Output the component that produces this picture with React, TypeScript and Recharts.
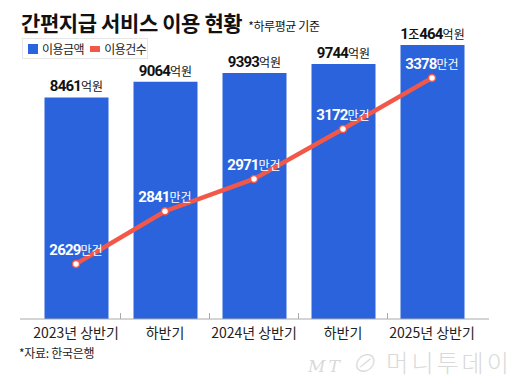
import React from "react"
import { Bar, ComposedChart, LabelList, Line, XAxis, YAxis } from "recharts"

const periods = ["2023년 상반기", "하반기", "2024년 상반기", "하반기", "2025년 상반기"]
const amountLabels = ["8461", "9064", "9393", "9744", "1조464"]
const amounts = [8461, 9064, 9393, 9744, 10464] // 억원
const counts = [2629, 2841, 2971, 3172, 3378] // 만건

const data = periods.map((p, i) => ({
  period: p,
  amount: amounts[i],
  count: counts[i],
}))

const BLUE = "#2a63dc"
const RED = "#f2584a"
const FONT = "'Noto Sans CJK KR', 'Noto Sans', sans-serif"
const NUM_FONT = "Roboto, 'Noto Sans CJK KR', sans-serif"
const HALF_BAND = 44.5

function PeriodTick(props: any) {
  const { x, y, payload, index } = props
  return (
    <g>
      {index < periods.length - 1 && (
        <line x1={x + HALF_BAND} x2={x + HALF_BAND} y1={y - 6} y2={y} stroke="#aaa" />
      )}
      <text x={x} y={y + 19} textAnchor="middle" fontSize={14} fill="#222" fontFamily={FONT}>
        {payload.value}
      </text>
    </g>
  )
}

function AmountLabel(props: any) {
  const { x, y, width, index } = props
  const label = amountLabels[index]
  const parts = label.split("조")
  return (
    <text x={x + width / 2} y={y - 6} textAnchor="middle" fill="#111" fontFamily={NUM_FONT}>
      {parts.length > 1 ? (
        <>
          <tspan fontSize={15} fontWeight={700} letterSpacing={-0.8}>{parts[0]}</tspan>
          <tspan fontSize={12} fontFamily={FONT} fontWeight={500}>조</tspan>
          <tspan fontSize={15} fontWeight={700} letterSpacing={-0.8}>{parts[1]}</tspan>
        </>
      ) : (
        <tspan fontSize={15} fontWeight={700} letterSpacing={-0.8}>{label}</tspan>
      )}
      <tspan fontSize={12} fontFamily={FONT}>억원</tspan>
    </text>
  )
}

function CountLabel(props: any) {
  const { x, y, index } = props
  return (
    <text x={x} y={y - 9} textAnchor="middle" fill="#fff" fontFamily={NUM_FONT}>
      <tspan fontSize={15} fontWeight={700} letterSpacing={-0.8}>{counts[index]}</tspan>
      <tspan fontSize={12} fontFamily={FONT}>만건</tspan>
    </text>
  )
}

export default function App() {
  return (
    <div style={{ position: "absolute", left: 0, top: 0, width: 520, height: 384, background: "#fff", fontFamily: FONT }}>
      <div style={{ position: "absolute", left: 21, top: 7, fontSize: 21, fontWeight: 700, color: "#111", letterSpacing: -0.4, whiteSpace: "nowrap" }}>
        간편지급 서비스 이용 현황
        <span style={{ fontSize: 12, fontWeight: 400, marginLeft: 6, letterSpacing: -0.4 }}>*하루평균 기준</span>
      </div>
      <div
        style={{
          position: "absolute",
          left: 22,
          top: 38,
          width: 124,
          height: 19,
          border: "1px solid #e6e6e6",
          display: "flex",
          alignItems: "center",
          fontSize: 12,
          color: "#222",
          whiteSpace: "nowrap",
          letterSpacing: -0.5,
          zIndex: 2,
        }}
      >
        <span style={{ display: "inline-block", width: 10, height: 10, background: BLUE, marginLeft: 5, marginRight: 4, flexShrink: 0 }} />
        <span>이용금액</span>
        <span style={{ display: "inline-block", width: 10, height: 6, background: RED, marginLeft: 6, marginRight: 4, flexShrink: 0 }} />
        <span>이용건수</span>
      </div>
      <ComposedChart
        width={520}
        height={384}
        data={data}
        margin={{ top: 31, right: 31, bottom: 35, left: 20 }}
      >
        <XAxis
          dataKey="period"
          height={30}
          padding={{ left: 11.5, right: 12.5 }}
          axisLine={{ stroke: "#aaa" }}
          tickLine={false}
          tickSize={0}
          tickMargin={0}
          interval={0}
          tick={<PeriodTick />}
        />
        <YAxis yAxisId="amt" hide domain={[0, 11000]} />
        <YAxis yAxisId="cnt" hide orientation="right" domain={[2407, 3567]} />
        <Bar yAxisId="amt" dataKey="amount" fill={BLUE} barSize={64} isAnimationActive={false}>
          <LabelList dataKey="amount" content={<AmountLabel />} />
        </Bar>
        <Line
          yAxisId="cnt"
          dataKey="count"
          type="linear"
          stroke={RED}
          strokeWidth={4.5}
          dot={{ r: 3.5, fill: "#fff", stroke: RED, strokeWidth: 1.5 }}
          isAnimationActive={false}
        >
          <LabelList dataKey="count" content={<CountLabel />} />
        </Line>
      </ComposedChart>
      <div style={{ position: "absolute", left: 19, top: 344, fontSize: 12, color: "#222", letterSpacing: -0.3 }}>
        *자료: 한국은행
      </div>
      <div
        style={{
          position: "absolute",
          left: 308,
          top: 344,
          fontSize: 24,
          color: "#d9d9d9",
          fontWeight: 300,
          letterSpacing: 3,
          whiteSpace: "nowrap",
        }}
      >
        <span style={{ fontStyle: "italic", fontSize: 17, fontFamily: "'DejaVu Serif', serif" }}>MT</span>{" "}
        <span style={{ fontStyle: "italic" }}>⊘</span> 머니투데이
      </div>
    </div>
  )
}
